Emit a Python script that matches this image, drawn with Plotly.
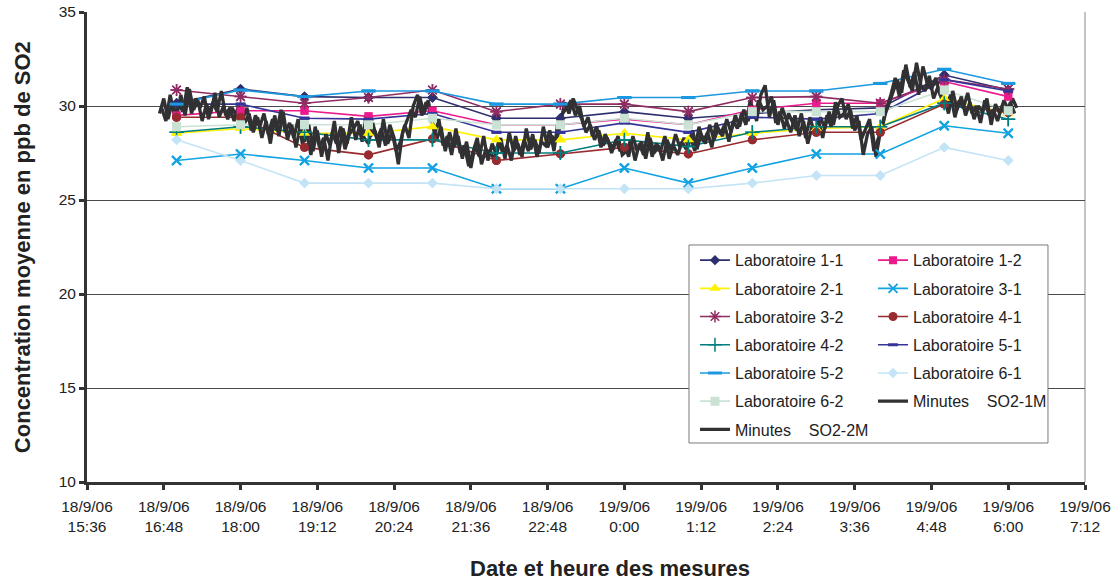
import pandas as pd
import plotly.graph_objects as go

# Hourly laboratory averages (ppb SO2)
lab_times = [
    "2006-09-18 17:00", "2006-09-18 18:00", "2006-09-18 19:00", "2006-09-18 20:00",
    "2006-09-18 21:00", "2006-09-18 22:00", "2006-09-18 23:00", "2006-09-19 00:00",
    "2006-09-19 01:00", "2006-09-19 02:00", "2006-09-19 03:00", "2006-09-19 04:00",
    "2006-09-19 05:00", "2006-09-19 06:00",
]

lab_1_1 = [30.15, 30.9, 30.5, 30.45, 30.45, 29.35, 29.35, 29.7, 29.35, 29.6, 29.8, 29.9, 31.65, 30.85]
lab_1_2 = [29.5, 29.75, 29.75, 29.45, 29.75, 29.0, 29.0, 29.3, 29.0, 29.8, 30.15, 30.15, 31.3, 30.5]
lab_2_1 = [28.55, 28.8, 28.55, 28.55, 28.9, 28.2, 28.2, 28.55, 28.2, 28.55, 28.8, 28.9, 30.4, 29.6]
lab_3_1 = [27.1, 27.45, 27.1, 26.7, 26.7, 25.6, 25.6, 26.7, 25.9, 26.7, 27.45, 27.45, 28.95, 28.55]
lab_3_2 = [30.85, 30.5, 30.15, 30.45, 30.85, 29.7, 30.1, 30.1, 29.7, 30.45, 30.5, 30.15, 31.4, 30.9]
lab_4_1 = [29.4, 29.4, 27.8, 27.4, 28.25, 27.1, 27.45, 27.8, 27.45, 28.2, 28.6, 28.6, 30.1, 29.65]
lab_4_2 = [28.6, 28.9, 28.6, 28.2, 28.2, 27.5, 27.5, 28.2, 27.85, 28.6, 28.9, 28.9, 30.15, 29.3]
lab_5_1 = [30.1, 30.1, 29.35, 29.3, 29.6, 28.6, 28.6, 29.1, 28.6, 29.4, 29.3, 29.6, 31.4, 30.8]
lab_5_2 = [30.1, 30.85, 30.5, 30.8, 30.8, 30.1, 30.1, 30.45, 30.45, 30.8, 30.8, 31.2, 31.95, 31.2]
lab_6_1 = [28.2, 27.1, 25.9, 25.9, 25.9, 25.6, 25.6, 25.6, 25.6, 25.9, 26.3, 26.3, 27.8, 27.1]
lab_6_2 = [28.9, 29.0, 29.0, 29.0, 29.35, 29.0, 29.0, 29.35, 29.0, 29.7, 29.7, 29.7, 30.85, 29.75]

# Continuous analyser readings, one value every 4 minutes
so2_1m_start = "2006-09-18 16:44"
so2_1m = [
    29.6, 30.4, 29.3, 30.2,
    29.4, 30.6, 29.5, 30.9, 29.8, 30.3, 29.2, 30.1, 29.6, 30.7, 29.4, 30.0, 29.3, 29.9, 29.5,
    29.8, 29.1, 29.6, 28.6, 29.4, 28.3, 29.2, 28.0, 29.5, 28.4, 29.7, 28.2, 29.0, 27.8, 28.9,
    28.1, 29.0, 27.6, 28.7, 27.3, 28.5, 27.9, 29.2, 27.5, 28.8, 28.0, 29.4, 28.2, 29.0, 28.3,
    28.0, 29.1, 28.2, 28.8, 27.9, 29.0, 28.3, 26.9, 28.6, 29.2, 29.8, 29.4, 30.5, 29.6, 30.3,
    29.1, 28.2, 28.9, 27.6, 28.6, 27.8, 28.4, 27.2, 28.1, 26.7, 27.9, 27.3, 28.4, 27.1, 28.0,
    27.4, 28.3, 27.2, 28.6, 27.6, 28.0, 27.3, 28.8, 27.7, 28.2, 27.5, 28.9, 27.8, 28.4, 28.1,
    29.0, 30.2, 29.6, 30.4, 29.8, 29.3, 28.6, 29.0, 28.2, 28.7, 27.9, 28.3, 27.5, 28.2, 27.6,
    28.0, 27.3, 28.4, 27.6, 28.1, 27.2, 28.3, 27.5, 27.9, 27.1, 28.2, 27.6, 28.5, 27.8, 28.3,
    27.9, 28.7, 27.7, 28.5, 28.0, 29.0, 28.2, 28.8, 28.4, 29.3, 28.6, 29.5, 28.9, 29.8, 29.2,
    30.0, 29.2, 30.6, 31.1, 29.4, 30.3, 29.0, 29.9, 29.3, 28.6, 29.5, 28.4, 29.2, 28.0, 28.9,
    28.6, 29.4, 28.8, 29.7, 29.0, 30.0, 30.4, 29.3, 29.8, 28.7, 29.2, 27.4, 28.5, 28.9, 27.3,
    28.6, 29.5, 30.1, 30.8, 31.4, 30.7, 32.2, 31.0, 31.8, 30.6, 32.1, 31.2, 30.9, 31.5, 30.6,
    30.4, 29.6, 30.8, 29.8, 30.5, 29.5, 30.2, 29.3, 30.0, 29.7, 30.4, 29.0, 30.1, 29.6, 30.3,
    29.8, 30.4, 29.9,
]

so2_2m_start = "2006-09-18 16:46"
so2_2m = [
    29.9, 29.2, 30.6, 29.5,
    30.1, 29.7, 31.0, 29.6, 30.4, 29.9, 30.5, 29.3, 30.2, 29.7, 30.8, 29.5, 29.9, 29.2, 30.0,
    29.3, 29.9, 28.7, 29.5, 28.9, 29.6, 28.5, 29.3, 28.7, 29.8, 28.6, 29.1, 28.3, 29.3, 28.0,
    28.6, 27.4, 28.9, 27.8, 28.3, 27.1, 28.6, 28.0, 28.9, 27.7, 28.5, 28.8, 29.2, 28.1, 29.5,
    28.4, 28.7, 27.8, 29.3, 28.0, 28.6, 27.6, 28.1, 29.0, 28.3, 30.0, 30.6, 29.5, 30.2, 29.7,
    28.5, 29.3, 27.9, 28.4, 27.4, 28.8, 27.5, 27.9, 26.8, 27.6, 28.3, 26.9, 27.7, 27.5, 27.2,
    28.1, 27.5, 27.9, 27.1, 28.4, 27.4, 28.2, 27.6, 28.5, 27.3, 28.1, 27.9, 28.7, 27.6, 29.3,
    29.6, 29.9, 30.3, 29.5, 30.0, 28.9, 29.4, 28.4, 28.9, 27.8, 28.5, 28.0, 27.8, 28.4, 27.4,
    27.6, 28.2, 27.1, 28.0, 27.4, 28.6, 27.3, 28.0, 27.6, 28.4, 27.2, 27.9, 27.4, 28.1, 27.7,
    28.4, 27.6, 28.9, 28.1, 28.6, 27.8, 29.1, 28.5, 29.0, 28.1, 29.2, 28.8, 29.6, 29.0, 30.3,
    29.5, 30.3, 29.8, 30.0, 30.5, 29.1, 29.7, 28.8, 29.6, 29.1, 28.7, 29.6, 28.3, 29.4, 28.6,
    29.2, 28.3, 29.5, 28.9, 30.2, 29.4, 29.6, 30.1, 28.8, 29.5, 28.2, 28.8, 29.3, 27.6, 28.2,
    28.9, 29.9, 30.6, 31.5, 30.5, 31.9, 31.3, 30.8, 32.3, 31.1, 30.8, 31.6, 30.4, 31.0, 30.3,
    30.0, 30.6, 29.4, 30.3, 29.9, 30.7, 29.6, 30.0, 29.1, 30.3, 29.5, 29.8, 29.2, 30.0, 29.5,
    30.2, 29.6,
]

x_tick_times = [
    "2006-09-18 15:36", "2006-09-18 16:48", "2006-09-18 18:00", "2006-09-18 19:12",
    "2006-09-18 20:24", "2006-09-18 21:36", "2006-09-18 22:48", "2006-09-19 00:00",
    "2006-09-19 01:12", "2006-09-19 02:24", "2006-09-19 03:36", "2006-09-19 04:48",
    "2006-09-19 06:00", "2006-09-19 07:12",
]
x_tick_labels = [
    "18/9/06<br>15:36", "18/9/06<br>16:48", "18/9/06<br>18:00", "18/9/06<br>19:12",
    "18/9/06<br>20:24", "18/9/06<br>21:36", "18/9/06<br>22:48", "19/9/06<br>0:00",
    "19/9/06<br>1:12", "19/9/06<br>2:24", "19/9/06<br>3:36", "19/9/06<br>4:48",
    "19/9/06<br>6:00", "19/9/06<br>7:12",
]
y_ticks = [10, 15, 20, 25, 30, 35]

FONT = "Arial, 'Liberation Sans', sans-serif"
TEXT = "#222222"

# name, values, colour, marker symbol, marker size, marker outline width
labs = [
    ("Laboratoire 1-1", lab_1_1, "#2E2F6E", "diamond", 8, 0),
    ("Laboratoire 1-2", lab_1_2, "#EC1A8C", "square", 8, 0),
    ("Laboratoire 2-1", lab_2_1, "#FFF200", "triangle-up", 10, 0),
    ("Laboratoire 3-1", lab_3_1, "#13A3E3", "x-thin", 9, 2),
    ("Laboratoire 3-2", lab_3_2, "#8F2D63", "asterisk", 10, 1.5),
    ("Laboratoire 4-1", lab_4_1, "#982B2F", "circle", 9, 0),
    ("Laboratoire 4-2", lab_4_2, "#007E7E", "cross-thin", 10, 1.5),
    ("Laboratoire 5-1", lab_5_1, "#343499", "line-ew", 7, 3),
    ("Laboratoire 5-2", lab_5_2, "#1B98DF", "line-ew", 10, 3),
    ("Laboratoire 6-1", lab_6_1, "#C3E4F6", "diamond", 8, 0),
    ("Laboratoire 6-2", lab_6_2, "#C9E2D3", "square", 9, 0),
]

x_lab = pd.to_datetime(lab_times)


def marker_style(color, symbol, size, lw):
    return dict(symbol=symbol, size=size, color=color,
                line=dict(color=color, width=lw))


fig = go.Figure()

for i, (name, vals, color, symbol, size, lw) in enumerate(labs):
    leg = "legend" if i % 2 == 0 else "legend2"
    fig.add_trace(go.Scatter(
        x=x_lab, y=vals, name=name, mode="lines+markers",
        line=dict(color=color, width=1.6),
        marker=marker_style(color, symbol, size, lw),
        legend=leg, legendgroup=name,
    ))

# minute series drawn over the laboratory lines
minute_series = [
    ("Minutes\u00a0\u00a0\u00a0 SO2-1M", so2_1m_start, so2_1m, "legend2"),
    ("Minutes\u00a0\u00a0\u00a0 SO2-2M", so2_2m_start, so2_2m, "legend"),
]
for name, start, vals, leg in minute_series:
    t = pd.date_range(start=start, periods=len(vals), freq="4min")
    fig.add_trace(go.Scatter(
        x=t, y=vals, name=name, mode="lines",
        line=dict(color="#313134", width=3.3),
        legend=leg, legendgroup=name,
    ))

# laboratory markers kept on top of everything
for name, vals, color, symbol, size, lw in labs:
    fig.add_trace(go.Scatter(
        x=x_lab, y=vals, mode="markers", showlegend=False,
        marker=marker_style(color, symbol, size, lw),
        legendgroup=name, hoverinfo="skip",
    ))

legend_common = dict(
    xanchor="left", yanchor="top", y=0.508,
    bgcolor="rgba(0,0,0,0)", borderwidth=0,
    font=dict(family=FONT, size=16, color=TEXT),
    tracegroupgap=4.4,
)

fig.update_layout(
    width=1117, height=582,
    margin=dict(l=87, r=32, t=12, b=100, autoexpand=False),
    paper_bgcolor="white", plot_bgcolor="white",
    font=dict(family=FONT, color=TEXT),
    showlegend=True,
    legend=dict(x=0.6092, **legend_common),
    legend2=dict(x=0.7876, **legend_common),
    xaxis=dict(
        type="date", automargin=False,
        range=[x_tick_times[0], x_tick_times[-1]],
        tickmode="array", tickvals=x_tick_times, ticktext=x_tick_labels,
        tickfont=dict(family=FONT, size=15.5, color=TEXT),
        ticklabelstandoff=3,
        showgrid=False, zeroline=False,
        showline=True, linecolor="#333333", linewidth=3,
        ticks="outside", ticklen=5, tickwidth=3, tickcolor="#333333",
    ),
    yaxis=dict(
        automargin=False,
        range=[10, 35], tickmode="array", tickvals=y_ticks,
        tickfont=dict(family=FONT, size=15.5, color=TEXT),
        showgrid=True, gridcolor="#4a4a4a", gridwidth=1, zeroline=False,
        showline=True, linecolor="#333333", linewidth=3,
        ticks="outside", ticklen=5, tickwidth=3, tickcolor="#333333",
    ),
    shapes=[
        # right edge of the plot area
        dict(type="line", xref="paper", yref="paper", x0=1, x1=1, y0=0, y1=1,
             line=dict(color="#8a8a8a", width=1), layer="below"),
        # frame behind the two legend columns
        dict(type="rect", xref="paper", yref="paper",
             x0=0.6032, x1=0.9629, y0=0.083, y1=0.5043,
             fillcolor="white", line=dict(color="#7a7a7a", width=1), layer="above"),
    ],
    annotations=[
        dict(text="<b>Concentration moyenne en ppb de SO2</b>", xref="paper", yref="paper",
             x=-0.065, y=0.5, xanchor="center", yanchor="middle", textangle=-90,
             showarrow=False, font=dict(family=FONT, size=22, color=TEXT)),
        dict(text="<b>Date et heure des mesures</b>", xref="paper", yref="paper",
             x=0.524, y=-0.183, xanchor="center", yanchor="middle",
             showarrow=False, font=dict(family=FONT, size=22, color=TEXT)),
    ],
)

fig.write_html("out.html")
